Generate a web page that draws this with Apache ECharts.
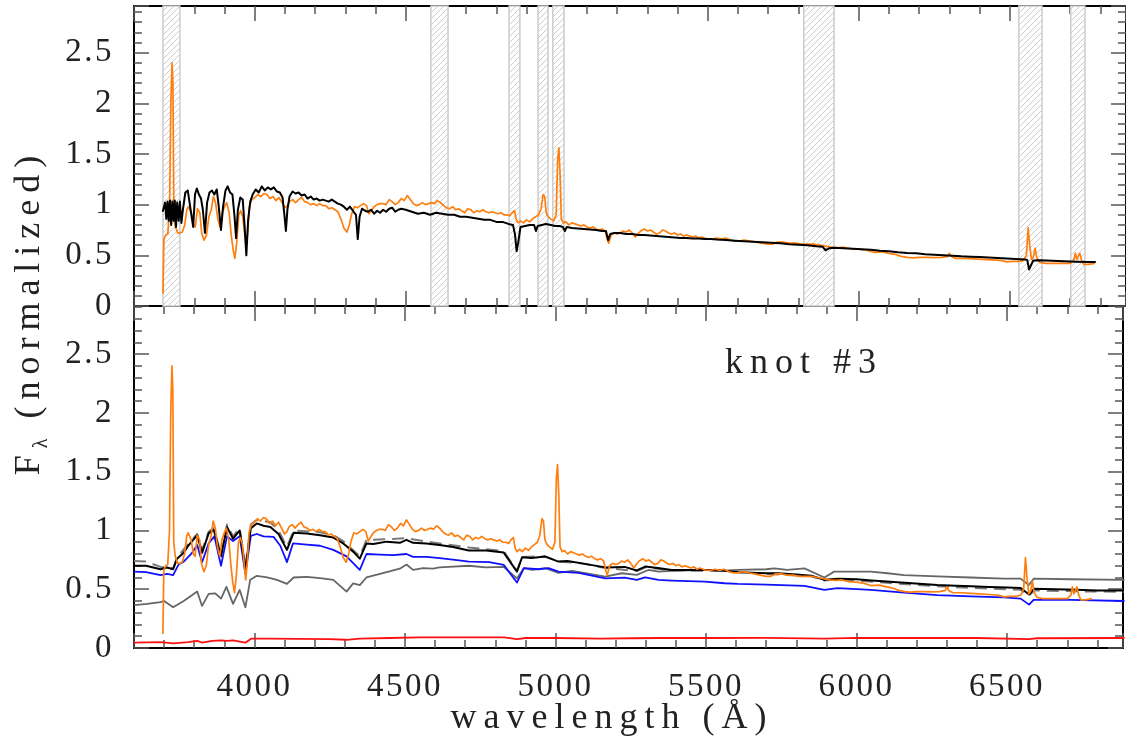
<!DOCTYPE html>
<html><head><meta charset="utf-8">
<script src="https://cdn.jsdelivr.net/npm/echarts@6/dist/echarts.min.js"></script>
<style>html,body{margin:0;padding:0;background:#fff}#c{width:1126px;height:748px}</style>
</head><body><div id="c"></div>
<script>
// ---------- data (wavelength in Å, normalized flux) ----------
const maskedBands = [[3696,3752],[4583,4640],[4842,4878],[4938,4971],[4987,5024],[5818,5918],[6530,6607],[6702,6749]];

const observed = [
[3696,0.12],[3699,0.66],[3705,0.70],[3712,0.71],[3718,1.0],[3722,2.0],[3726,2.40],[3729,2.2],[3732,0.9],[3737,0.78],[3745,0.72],[3752,0.72],
[3760,0.73],[3768,0.80],[3775,0.95],[3780,0.98],[3790,0.92],[3797,0.80],[3803,0.78],[3810,0.96],[3818,0.92],[3824,0.72],[3832,0.65],[3840,0.70],
[3848,0.88],[3856,0.95],[3863,1.08],[3870,1.02],[3878,0.85],[3885,0.78],[3892,0.92],[3900,0.98],[3907,1.02],[3915,0.92],[3922,0.70],[3928,0.56],
[3934,0.47],[3940,0.62],[3947,0.90],[3953,0.94],[3960,0.88],[3966,0.72],[3971,0.58],[3976,0.72],[3982,0.98],[3990,1.05],[4000,1.07],[4010,1.10],
[4020,1.08],[4030,1.11],[4040,1.10],[4050,1.06],[4060,1.08],[4070,1.04],[4080,1.07],[4090,1.02],[4100,0.97],[4108,0.99],[4115,1.03],[4125,1.05],
[4135,1.02],[4145,1.05],[4155,1.07],[4165,1.03],[4175,1.02],[4185,1.00],[4195,1.01],[4205,0.99],[4215,1.01],[4225,0.99],[4235,0.99],[4245,0.96],
[4255,0.97],[4265,0.95],[4275,0.93],[4285,0.86],[4295,0.77],[4305,0.73],[4313,0.80],[4320,0.90],[4330,0.98],[4340,0.97],[4350,0.99],[4360,1.01],
[4370,0.99],[4378,0.91],[4385,0.94],[4395,0.98],[4405,1.00],[4415,1.01],[4425,1.01],[4435,1.00],[4445,1.05],[4455,1.03],[4465,1.00],[4475,1.02],
[4485,1.06],[4495,1.04],[4505,1.09],[4515,1.05],[4525,1.01],[4535,0.99],[4545,1.00],[4555,1.02],[4565,1.00],[4575,1.01],[4585,1.02],[4595,1.01],
[4605,1.04],[4615,1.02],[4625,0.99],[4635,0.97],[4645,0.96],[4655,0.98],[4665,0.95],[4675,0.96],[4685,0.94],[4695,0.92],[4705,0.96],[4715,0.95],
[4725,0.92],[4735,0.94],[4745,0.93],[4755,0.95],[4765,0.93],[4775,0.92],[4785,0.93],[4795,0.92],[4805,0.91],[4815,0.92],[4825,0.90],[4835,0.90],
[4845,0.89],[4852,0.92],[4860,0.94],[4866,0.85],[4872,0.82],[4880,0.84],[4890,0.82],[4900,0.85],[4910,0.83],[4920,0.86],[4930,0.88],[4940,0.90],
[4948,0.96],[4955,1.10],[4960,1.08],[4965,0.92],[4972,0.88],[4980,0.86],[4990,0.84],[4998,0.90],[5003,1.45],[5007,1.56],[5011,1.30],[5015,0.86],
[5022,0.82],[5030,0.83],[5040,0.80],[5050,0.82],[5060,0.81],[5070,0.80],[5080,0.79],[5090,0.80],[5100,0.78],[5110,0.77],[5120,0.78],[5130,0.76],
[5140,0.75],[5150,0.76],[5160,0.74],[5167,0.66],[5172,0.62],[5180,0.70],[5190,0.72],[5200,0.71],[5210,0.72],[5220,0.74],[5230,0.73],[5240,0.75],
[5250,0.72],[5260,0.68],[5268,0.71],[5278,0.74],[5290,0.76],[5300,0.74],[5310,0.75],[5320,0.73],[5330,0.71],[5340,0.72],[5350,0.75],[5360,0.74],
[5370,0.72],[5380,0.71],[5390,0.72],[5400,0.70],[5410,0.71],[5420,0.69],[5430,0.70],[5440,0.69],[5450,0.68],[5460,0.69],[5470,0.67],[5480,0.68],
[5490,0.67],[5500,0.66],[5515,0.66],[5530,0.67],[5545,0.66],[5560,0.67],[5575,0.65],[5590,0.64],[5605,0.64],[5620,0.65],[5640,0.64],[5660,0.63],
[5680,0.62],[5700,0.61],[5715,0.61],[5730,0.63],[5750,0.63],[5770,0.62],[5790,0.62],[5810,0.61],[5830,0.61],[5850,0.61],[5870,0.60],[5890,0.59],
[5910,0.58],[5930,0.575],[5950,0.58],[5975,0.565],[6000,0.56],[6025,0.55],[6050,0.53],[6075,0.535],[6100,0.52],[6120,0.51],[6140,0.49],[6160,0.48],
[6180,0.475],[6200,0.48],[6225,0.48],[6250,0.478],[6275,0.48],[6295,0.49],[6300,0.52],[6306,0.49],[6320,0.47],[6350,0.47],[6380,0.465],[6410,0.46],
[6440,0.455],[6470,0.45],[6490,0.435],[6510,0.44],[6530,0.44],[6545,0.45],[6555,0.50],[6561,0.77],[6566,0.60],[6572,0.46],[6578,0.48],[6584,0.57],
[6590,0.47],[6600,0.43],[6620,0.42],[6650,0.42],[6680,0.42],[6700,0.42],[6712,0.45],[6717,0.52],[6722,0.46],[6728,0.46],[6732,0.52],[6738,0.45],
[6745,0.41],[6760,0.41],[6782,0.42]
];

const modelFull = [
[3695,0.93],[3700,0.92],[3703,1.02],[3707,0.86],[3711,1.03],[3715,0.84],[3719,1.04],[3723,0.80],[3727,1.03],[3731,0.84],[3735,1.04],[3739,0.78],
[3743,1.02],[3748,0.84],[3752,1.03],[3757,0.82],[3762,0.95],[3770,1.12],[3778,1.14],[3784,1.02],[3790,0.90],[3796,0.78],[3802,1.10],[3808,1.16],
[3815,1.10],[3822,1.06],[3828,0.95],[3835,0.72],[3842,1.02],[3850,1.12],[3858,1.14],[3866,1.10],[3874,1.15],[3880,1.00],[3888,0.75],[3895,0.98],
[3903,1.14],[3910,1.18],[3918,1.12],[3926,1.10],[3933,0.88],[3938,0.67],[3944,0.95],[3952,1.07],[3960,1.05],[3966,0.80],[3972,0.50],[3978,0.85],
[3985,1.03],[3993,1.10],[4003,1.15],[4013,1.12],[4023,1.18],[4033,1.14],[4043,1.17],[4053,1.15],[4063,1.17],[4073,1.13],[4083,1.12],[4092,1.07],
[4098,0.90],[4103,0.74],[4108,0.95],[4115,1.08],[4125,1.13],[4135,1.11],[4145,1.12],[4155,1.09],[4165,1.10],[4175,1.06],[4185,1.08],[4195,1.05],
[4205,1.06],[4215,1.04],[4225,1.05],[4235,1.04],[4245,1.03],[4255,1.05],[4265,1.03],[4275,1.01],[4285,1.00],[4295,0.98],[4305,0.95],[4315,0.98],
[4325,0.94],[4335,0.90],[4341,0.66],[4347,0.88],[4355,0.96],[4365,0.94],[4375,0.93],[4385,0.95],[4395,0.91],[4405,0.94],[4415,0.92],[4425,0.95],
[4435,0.93],[4445,0.96],[4455,0.97],[4465,0.93],[4475,0.95],[4485,0.96],[4500,0.95],[4520,0.93],[4540,0.91],[4560,0.92],[4580,0.90],[4600,0.92],
[4620,0.91],[4640,0.90],[4660,0.90],[4680,0.88],[4700,0.88],[4720,0.87],[4740,0.86],[4760,0.85],[4780,0.85],[4800,0.83],[4820,0.83],[4840,0.81],
[4855,0.80],[4862,0.70],[4867,0.54],[4872,0.62],[4880,0.78],[4895,0.79],[4910,0.80],[4925,0.80],[4931,0.74],[4937,0.79],[4950,0.80],[4965,0.81],
[4980,0.80],[4995,0.79],[5010,0.79],[5020,0.78],[5027,0.74],[5033,0.78],[5050,0.77],[5070,0.765],[5090,0.76],[5110,0.755],[5130,0.75],[5150,0.74],
[5163,0.74],[5170,0.65],[5177,0.71],[5190,0.72],[5210,0.72],[5230,0.71],[5250,0.71],[5270,0.70],[5290,0.70],[5310,0.695],[5330,0.69],[5350,0.685],
[5370,0.68],[5390,0.675],[5410,0.67],[5430,0.67],[5450,0.665],[5470,0.665],[5490,0.66],[5510,0.66],[5530,0.655],[5560,0.65],[5590,0.645],[5620,0.64],
[5650,0.635],[5680,0.63],[5710,0.625],[5740,0.62],[5770,0.61],[5800,0.605],[5830,0.60],[5860,0.59],[5880,0.585],[5890,0.55],[5896,0.54],[5903,0.57],
[5920,0.575],[5950,0.57],[5980,0.565],[6010,0.56],[6040,0.555],[6070,0.545],[6100,0.54],[6130,0.53],[6160,0.523],[6190,0.52],[6220,0.51],[6250,0.505],
[6280,0.50],[6310,0.495],[6340,0.49],[6370,0.487],[6400,0.483],[6430,0.478],[6460,0.473],[6490,0.468],[6520,0.463],[6550,0.458],[6558,0.455],
[6564,0.36],[6570,0.40],[6578,0.45],[6600,0.452],[6640,0.447],[6680,0.442],[6720,0.437],[6760,0.434],[6785,0.433]
];

const modelSum = [
[3600,0.70],[3640,0.70],[3688,0.67],[3710,0.685],[3730,0.67],[3743,0.76],[3765,0.81],[3782,0.876],[3810,0.96],[3826,0.81],[3848,0.975],[3865,1.005],
[3889,0.78],[3909,1.03],[3929,0.93],[3951,1.00],[3970,0.664],[3988,1.02],[4008,1.06],[4030,1.04],[4053,1.03],[4080,0.97],[4108,0.835],[4130,0.98],
[4174,0.975],[4218,0.96],[4262,0.94],[4295,0.89],[4328,0.82],[4350,0.76],[4372,0.89],[4395,0.885],[4439,0.905],[4483,0.895],[4505,0.92],[4527,0.895],
[4571,0.89],[4615,0.876],[4660,0.86],[4712,0.83],[4770,0.83],[4828,0.812],[4872,0.65],[4889,0.772],[4920,0.765],[4966,0.778],[5010,0.735],[5040,0.74],
[5088,0.72],[5165,0.686],[5230,0.69],[5270,0.66],[5298,0.693],[5340,0.68],[5386,0.664],[5450,0.664],[5510,0.664],[5562,0.658],[5606,0.645],[5650,0.64],
[5700,0.636],[5739,0.636],[5800,0.625],[5850,0.615],[5893,0.58],[5940,0.59],[6000,0.585],[6050,0.575],[6100,0.565],[6160,0.556],[6220,0.545],
[6268,0.536],[6330,0.53],[6380,0.525],[6440,0.52],[6500,0.515],[6545,0.51],[6573,0.455],[6590,0.505],[6660,0.50],[6730,0.495],[6800,0.49],[6890,0.49]
];

const youngComponent = [
[3600,0.65],[3640,0.645],[3688,0.62],[3710,0.63],[3730,0.62],[3748,0.71],[3765,0.735],[3790,0.80],[3810,0.876],[3826,0.73],[3848,0.89],[3867,0.95],
[3889,0.70],[3909,0.95],[3929,0.91],[3951,0.95],[3970,0.63],[3988,0.955],[4008,0.97],[4030,0.95],[4064,0.945],[4086,0.87],[4108,0.73],[4128,0.89],
[4174,0.88],[4218,0.87],[4262,0.835],[4306,0.78],[4350,0.664],[4372,0.80],[4417,0.795],[4461,0.79],[4505,0.80],[4527,0.775],[4571,0.775],[4615,0.764],
[4680,0.745],[4712,0.735],[4780,0.73],[4828,0.707],[4872,0.557],[4895,0.679],[4944,0.67],[4977,0.679],[5010,0.65],[5077,0.64],[5165,0.593],[5230,0.598],
[5270,0.579],[5298,0.60],[5342,0.579],[5386,0.574],[5496,0.565],[5562,0.551],[5606,0.545],[5700,0.54],[5827,0.528],[5893,0.494],[5937,0.51],
[6047,0.494],[6158,0.471],[6268,0.45],[6379,0.44],[6489,0.431],[6545,0.42],[6573,0.369],[6588,0.41],[6710,0.409],[6890,0.40]
];

const oldComponent = [
[3600,0.365],[3644,0.375],[3688,0.39],[3700,0.40],[3730,0.346],[3765,0.40],[3810,0.48],[3826,0.358],[3848,0.46],[3870,0.465],[3889,0.42],[3907,0.52],
[3929,0.375],[3951,0.494],[3970,0.346],[3986,0.58],[4008,0.614],[4042,0.60],[4075,0.58],[4108,0.545],[4130,0.60],[4174,0.605],[4218,0.595],[4262,0.58],
[4306,0.48],[4328,0.55],[4350,0.535],[4372,0.60],[4417,0.63],[4461,0.66],[4483,0.675],[4505,0.71],[4527,0.665],[4560,0.68],[4593,0.676],[4615,0.686],
[4646,0.69],[4712,0.70],[4768,0.686],[4828,0.69],[4872,0.593],[4895,0.679],[4922,0.664],[4966,0.679],[5010,0.64],[5055,0.657],[5099,0.636],[5165,0.608],
[5220,0.636],[5270,0.622],[5308,0.664],[5342,0.65],[5386,0.657],[5496,0.664],[5562,0.658],[5606,0.664],[5700,0.67],[5727,0.678],[5770,0.664],
[5827,0.678],[5893,0.60],[5926,0.65],[6047,0.65],[6103,0.636],[6158,0.62],[6268,0.61],[6379,0.60],[6489,0.59],[6545,0.59],[6572,0.536],[6589,0.59],
[6710,0.585],[6890,0.579]
];

const altModel = [
[3600,0.74],[3640,0.735],[3688,0.69],[3730,0.68],[3743,0.77],[3782,0.89],[3810,0.97],[3826,0.83],[3848,0.99],[3865,1.02],[3889,0.80],[3909,1.05],
[3929,0.95],[3951,1.02],[3970,0.69],[3988,1.05],[4008,1.09],[4053,1.07],[4080,1.00],[4108,0.86],[4130,1.00],[4218,0.985],[4262,0.96],[4295,0.91],
[4350,0.78],[4372,0.92],[4439,0.925],[4505,0.935],[4571,0.905],[4615,0.89],[4712,0.855],[4828,0.825],[4872,0.655],[4889,0.775],[4966,0.78],[5010,0.735],
[5088,0.72],[5165,0.68],[5270,0.655],[5298,0.685],[5386,0.66],[5562,0.655],[5700,0.63],[5850,0.61],[5893,0.575],[5940,0.585],[6100,0.555],[6268,0.525],
[6440,0.505],[6545,0.495],[6573,0.445],[6590,0.49],[6730,0.482],[6890,0.478]
];

const nebularComponent = [
[3600,0.045],[3688,0.05],[3730,0.04],[3780,0.05],[3810,0.06],[3826,0.045],[3860,0.06],[3889,0.065],[3909,0.06],[3929,0.065],[3951,0.055],[3970,0.045],
[3990,0.08],[4050,0.08],[4150,0.078],[4250,0.075],[4305,0.07],[4350,0.08],[4450,0.085],[4550,0.09],[4700,0.09],[4830,0.09],[4872,0.075],[4900,0.085],
[5000,0.085],[5150,0.08],[5250,0.083],[5350,0.085],[5500,0.085],[5700,0.087],[5893,0.08],[6000,0.087],[6200,0.085],[6400,0.085],[6573,0.075],
[6600,0.083],[6890,0.085]
];

const panelLabel = 'knot #3';
const xTitle = 'wavelength (Å)';

// ---------- wide, plotter-style letter spacing for the text (tick labels vs. titles) ----------
(function () {
  const P = window.CanvasRenderingContext2D && CanvasRenderingContext2D.prototype;
  if (!P || !('letterSpacing' in P)) return;
  const spacingFor = f => (/\b36px\b/.test(f) ? '7px' : (/\b33px\b/.test(f) ? '2.5px' : '0px'));
  ['fillText', 'strokeText', 'measureText'].forEach(name => {
    const orig = P[name];
    P[name] = function () {
      const prev = this.letterSpacing;
      this.letterSpacing = spacingFor(this.font || '');
      try { return orig.apply(this, arguments); } finally { this.letterSpacing = prev; }
    };
  });
})();

// ---------- chart ----------
const FONT = '"Liberation Serif", "DejaVu Serif", serif';
const TXT = '#222';
const X_MIN = 3600, X_MAX = 6885, Y_TOP_MAX = 2.96, Y_BOT_MAX = 2.91;
const TICK = { color: '#555', width: 1.5 };

function hatchPattern() {
  const c = document.createElement('canvas');
  c.width = 6; c.height = 6;
  const g = c.getContext('2d');
  g.fillStyle = '#ffffff'; g.fillRect(0, 0, 6, 6);
  g.strokeStyle = '#cdcdcd'; g.lineWidth = 1;
  g.beginPath();
  g.moveTo(0, 6); g.lineTo(6, 0);
  g.moveTo(-1, 1); g.lineTo(1, -1);
  g.moveTo(5, 7); g.lineTo(7, 5);
  g.stroke();
  return { image: c, repeat: 'repeat' };
}
const HATCH = hatchPattern();

function xAxisCfg(gridIndex, position, labels) {
  return {
    type: 'value', gridIndex, position, min: X_MIN, max: X_MAX, minInterval: 500, maxInterval: 500,
    axisLine: { show: true, onZero: false, lineStyle: { color: '#000', width: 2 } },
    axisTick: { show: true, inside: true, length: 15, lineStyle: TICK },
    minorTick: { show: true, splitNumber: 5, length: 8, lineStyle: TICK },
    splitLine: { show: false }, minorSplitLine: { show: false },
    axisLabel: { show: labels, margin: 22, fontFamily: FONT, fontSize: 33, color: TXT,
      formatter: v => (Math.round(v) % 500 === 0 ? String(Math.round(v)) : '') }
  };
}
function yAxisCfg(gridIndex, position, max, labels) {
  return {
    type: 'value', gridIndex, position, min: 0, max, interval: 0.5,
    axisLine: { show: true, onZero: false, lineStyle: { color: '#000', width: 2 } },
    axisTick: { show: true, inside: true, length: 15, lineStyle: TICK },
    minorTick: { show: true, splitNumber: 5, length: 8, lineStyle: TICK },
    splitLine: { show: false }, minorSplitLine: { show: false },
    axisLabel: { show: labels, margin: 20, fontFamily: FONT, fontSize: 33, color: TXT,
      formatter: v => (Math.abs(v * 2 - Math.round(v * 2)) < 1e-6 ? String(Math.round(v * 2) / 2) : '') }
  };
}
function lineSeries(name, data, xi, yi, color, width, z, type) {
  return { name, type: 'line', xAxisIndex: xi, yAxisIndex: yi, data, showSymbol: false, symbol: 'none',
    animation: false, z, lineStyle: { color, width, type: type || 'solid', cap: 'butt', join: 'round' } };
}

const chart = echarts.init(document.getElementById('c'), null, { renderer: 'canvas' });
chart.setOption({
  animation: false,
  backgroundColor: '#fff',
  grid: [
    { left: 134, top: 6, width: 992, height: 300 },
    { left: 134, top: 306, width: 992, height: 342 }
  ],
  xAxis: [xAxisCfg(0, 'bottom', false), xAxisCfg(0, 'top', false), xAxisCfg(1, 'bottom', true), xAxisCfg(1, 'top', false)],
  yAxis: [yAxisCfg(0, 'left', Y_TOP_MAX, true), yAxisCfg(0, 'right', Y_TOP_MAX, false), yAxisCfg(1, 'left', Y_BOT_MAX, true), yAxisCfg(1, 'right', Y_BOT_MAX, false)],
  series: [
    {
      type: 'custom', xAxisIndex: 0, yAxisIndex: 0, data: maskedBands, z: 1, silent: true,
      encode: { x: [0, 1] },
      renderItem: (params, api) => {
        const a = api.coord([api.value(0), Y_TOP_MAX]);
        const b = api.coord([api.value(1), 0]);
        return { type: 'rect', shape: { x: a[0], y: a[1], width: b[0] - a[0], height: b[1] - a[1] },
          style: { fill: HATCH, stroke: '#cccccc', lineWidth: 1.5 } };
      }
    },
    lineSeries('observed', observed, 0, 0, '#ff7f0e', 1.7, 3),
    lineSeries('model', modelFull, 0, 0, '#000000', 2, 4),
    lineSeries('nebular', nebularComponent, 2, 2, '#ff1010', 1.8, 3),
    lineSeries('old', oldComponent, 2, 2, '#666666', 1.8, 3),
    lineSeries('young', youngComponent, 2, 2, '#1010ff', 1.8, 4),
    lineSeries('alt', altModel, 2, 2, '#7a7a7a', 2, 4, [12, 7]),
    lineSeries('sum', modelSum, 2, 2, '#000000', 2, 5),
    lineSeries('observed2', observed, 2, 2, '#ff7f0e', 1.7, 6)
  ],
  graphic: [
    { type: 'text', x: 725, y: 364, silent: true,
      style: { text: panelLabel, font: '36px ' + FONT, fill: TXT, verticalAlign: 'middle', align: 'left' } },
    { type: 'text', x: 612, y: 719, silent: true,
      style: { text: xTitle, font: '36px ' + FONT, fill: TXT, verticalAlign: 'middle', align: 'center' } },
    { type: 'text', x: 30, y: 312, rotation: Math.PI / 2, silent: true,
      style: { text: '{f|F}{s|λ}{t| (normalized)}', font: '36px ' + FONT, fill: TXT, align: 'center', verticalAlign: 'middle',
        rich: { f: { fontSize: 36, fontFamily: FONT, fill: TXT },
                s: { fontSize: 20, fontFamily: FONT, fill: TXT, verticalAlign: 'bottom', padding: [18, 4, 0, 0] },
                t: { fontSize: 36, fontFamily: FONT, fill: TXT } } } }
  ]
});
</script></body></html>
